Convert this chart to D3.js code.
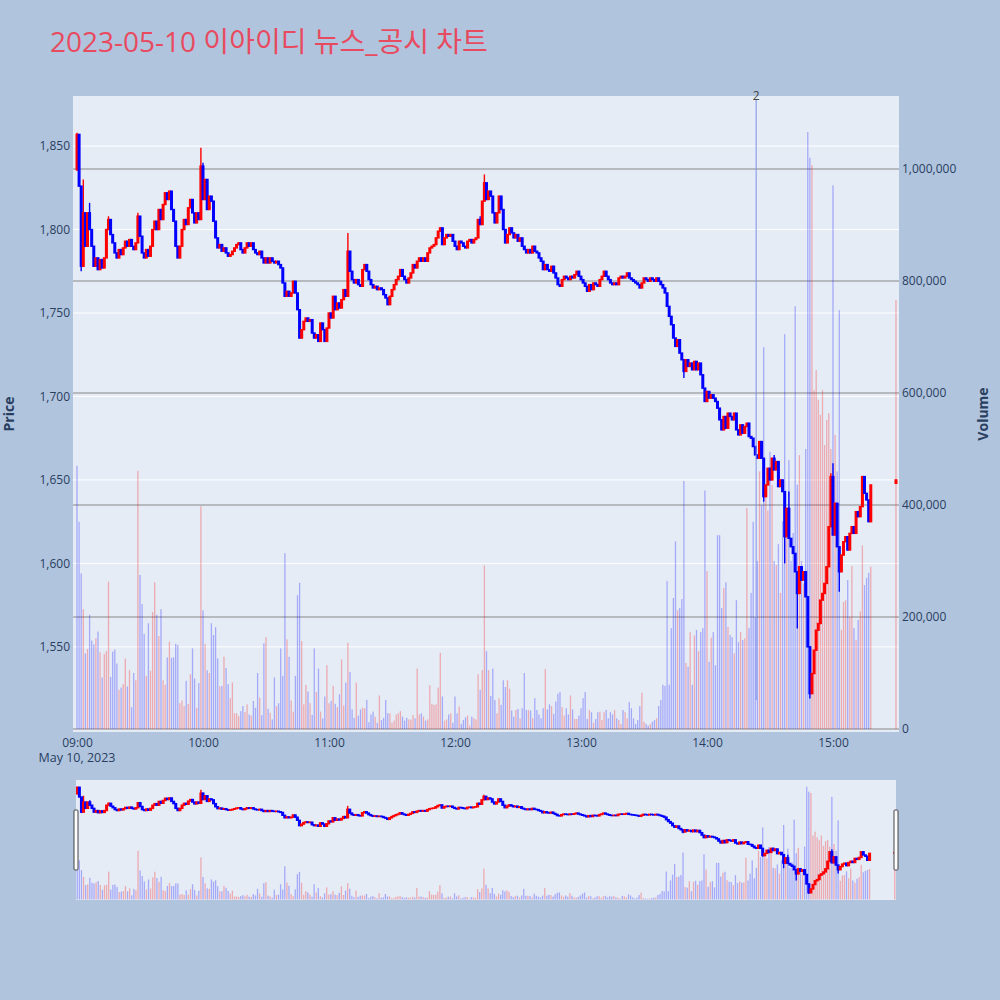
<!DOCTYPE html>
<html><head><meta charset="utf-8">
<script src="https://cdn.jsdelivr.net/npm/d3@7"></script>
<style>
body{margin:0;background:#b0c4de;}
svg{display:block;font-family:"Open Sans","Noto Sans CJK KR",sans-serif;}
</style></head><body>
<svg id="c" width="1000" height="1000"></svg>
<script>
// ---------------- data ----------------
const titleText = "2023-05-10 이아이디 뉴스_공시 차트";
const firstOpen = 1836;
const prevDayClose = 1860;
// one close per minute, 09:00 .. 15:18
const closes = [
1857,1826,1778,1810,1790,1810,1800,1790,1778,1783,
1776,1782,1777,1783,1800,1806,1797,1792,1786,1783,
1788,1785,1789,1793,1790,1794,1790,1788,1792,1808,
1796,1786,1783,1788,1784,1790,1800,1805,1800,1812,
1806,1815,1822,1818,1823,1812,1805,1790,1783,1790,
1800,1806,1803,1813,1818,1810,1804,1810,1806,1838,
1818,1830,1812,1820,1817,1805,1795,1789,1791,1787,
1789,1786,1784,1785,1787,1789,1791,1792,1788,1786,
1789,1792,1790,1792,1788,1786,1785,1787,1783,1780,
1783,1780,1783,1781,1780,1781,1779,1777,1768,1760,
1763,1760,1762,1769,1762,1752,1735,1740,1745,1747,
1745,1746,1738,1735,1737,1733,1744,1740,1733,1741,
1750,1747,1760,1752,1756,1753,1758,1764,1760,1787,
1775,1770,1768,1770,1767,1766,1776,1779,1775,1770,
1767,1765,1766,1764,1765,1764,1761,1759,1755,1760,
1764,1767,1770,1772,1776,1772,1770,1768,1771,1774,
1779,1777,1781,1783,1781,1783,1781,1786,1789,1790,
1791,1795,1799,1801,1791,1795,1797,1796,1797,1793,
1790,1788,1793,1792,1790,1789,1793,1794,1792,1794,
1795,1806,1803,1817,1828,1818,1823,1820,1810,1804,
1810,1820,1812,1800,1792,1797,1801,1798,1795,1797,
1793,1795,1790,1788,1786,1788,1786,1790,1787,1786,
1783,1781,1776,1779,1776,1775,1778,1774,1771,1767,
1766,1770,1772,1771,1770,1772,1771,1773,1775,1772,
1770,1768,1766,1763,1767,1764,1768,1767,1766,1770,
1772,1775,1772,1770,1768,1767,1768,1767,1771,1772,
1771,1772,1774,1771,1770,1769,1768,1767,1765,1768,
1771,1770,1769,1771,1770,1769,1771,1769,1767,1765,
1762,1754,1748,1743,1735,1730,1734,1726,1722,1715,
1722,1718,1720,1716,1721,1716,1720,1713,1705,1697,
1703,1699,1701,1699,1697,1693,1686,1680,1688,1681,
1690,1688,1686,1690,1680,1677,1683,1678,1682,1684,
1676,1675,1670,1665,1663,1673,1663,1640,1647,1657,
1650,1663,1656,1661,1646,1650,1643,1616,1633,1615,
1610,1606,1595,1582,1598,1590,1595,1580,1550,1522,
1534,1548,1560,1564,1578,1582,1588,1598,1622,1652,
1617,1636,1610,1595,1605,1613,1616,1608,1618,1622,
1618,1631,1628,1634,1652,1642,1638,1625,1647
];
// sparse wick extremes: [minute index, high, low]
const wicks = [
[0,1858,1835],[2,null,1775],[3,1830,null],[6,1816,null],[15,1808,null],
[29,1810,null],[59,1849,null],[60,1840,null],[129,1798,null],[192,1808,null],
[194,1833,null],[289,null,1711],[327,null,1637],[332,1665,null],[337,null,1600],
[339,1643,null],[343,null,1561],[349,null,1519],[359,1654,null],[360,1660,null],
[363,null,1583]
];
const volumes = [
470000,370000,278000,214000,135000,143000,204000,158000,151000,162000,
174000,137000,92000,134000,139000,263000,93000,138000,142000,117000,
70000,74000,80000,126000,76000,105000,39000,100000,87000,461000,
275000,223000,170000,95000,189000,104000,209000,262000,204000,166000,
214000,87000,79000,128000,156000,127000,128000,152000,150000,46000,
51000,41000,86000,45000,98000,144000,90000,38000,82000,398000,
212000,152000,105000,100000,189000,168000,182000,126000,76000,77000,
129000,109000,80000,55000,83000,28000,28000,23000,32000,41000,
30000,44000,26000,24000,50000,38000,100000,56000,25000,153000,
164000,36000,29000,17000,92000,41000,46000,144000,95000,314000,
160000,129000,51000,31000,95000,239000,261000,157000,44000,79000,
67000,46000,25000,144000,66000,108000,31000,19000,58000,114000,
46000,50000,77000,45000,39000,62000,124000,42000,83000,154000,
102000,35000,20000,83000,24000,35000,38000,37000,52000,12000,
26000,31000,22000,11000,60000,16000,20000,52000,28000,28000,
11000,15000,26000,28000,32000,22000,15000,20000,17000,17000,
25000,19000,108000,26000,28000,22000,15000,17000,78000,45000,
43000,44000,74000,136000,58000,15000,17000,26000,28000,11000,
58000,28000,40000,9000,16000,21000,24000,6000,22000,19000,
17000,98000,70000,105000,292000,139000,105000,59000,108000,52000,
28000,55000,43000,87000,75000,87000,72000,33000,22000,34000,
36000,19000,37000,100000,34000,34000,33000,19000,55000,34000,
26000,19000,37000,107000,35000,44000,41000,27000,49000,63000,
66000,39000,24000,37000,26000,60000,35000,18000,18000,24000,
37000,55000,66000,18000,34000,30000,11000,18000,30000,31000,
16000,30000,34000,19000,30000,26000,34000,19000,16000,9000,
34000,30000,19000,48000,37000,19000,9000,16000,41000,65000,
13000,9000,6000,9000,13000,16000,19000,41000,52000,79000,
77000,264000,79000,180000,234000,335000,212000,216000,232000,443000,
118000,111000,173000,79000,167000,177000,139000,173000,180000,426000,
282000,120000,163000,173000,114000,346000,346000,216000,252000,262000,
182000,168000,164000,135000,230000,155000,173000,159000,162000,395000,
180000,243000,370000,200000,300000,460000,400000,682000,425000,390000,
495000,436000,300000,293000,330000,243000,371000,705000,391000,480000,
300000,350000,755000,436000,489000,300000,260000,500000,1066000,1020000,
1007000,605000,641000,588000,561000,605000,507000,552000,564000,500000,
971000,525000,460000,748000,177000,227000,230000,266000,200000,291000,
180000,159000,195000,210000,328000,257000,270000,279000,290000
];
// closing single-price auction
const auctionTime = "15:30", auctionOpen = 1648, auctionClose = 1650, auctionVolume = 766000;
const priceTicks = [1550,1600,1650,1700,1750,1800,1850];
const volumeTicks = [0,200000,400000,600000,800000,1000000];
const timeTickLabels = ["09:00","10:00","11:00","12:00","13:00","14:00","15:00"];
const newsMarks = [{time:"14:23", count:"2"}];

// ---------------- build records ----------------
const day = (hm, s=0) => { const [h,m]=hm.split(":").map(Number); return new Date(2023,4,10,h,m,s); };
const t0 = day("09:00");
const wickMap = new Map(wicks.map(w=>[w[0],w]));
const recs = closes.map((c,i)=>{
  const o = i===0 ? firstOpen : closes[i-1];
  const w = wickMap.get(i);
  const hi = Math.max(o,c, w && w[1]!=null ? w[1] : -Infinity);
  const lo = Math.min(o,c, w && w[2]!=null ? w[2] : Infinity);
  const pc = i===0 ? prevDayClose : closes[i-1];
  return {t:new Date(t0.getTime()+i*60000), o, c, h:hi, l:lo, v:volumes[i], up:c>o, vup:c>pc};
});
recs.push({t:day(auctionTime), o:auctionOpen, c:auctionClose, h:auctionClose, l:auctionOpen,
  v:auctionVolume, up:auctionClose>auctionOpen, vup:auctionClose>closes[closes.length-1]});

// ---------------- layout ----------------
const svg = d3.select("#c");
const P = {l:73, r:899, t:96, b:732};
const S = {l:76, r:896, t:780, b:900};
const x = d3.scaleTime().domain([day("08:58",6), day("15:31",26)]).range([P.l,P.r]);
const xs = d3.scaleTime().domain([day("08:59",24), day("15:30",36)]).range([S.l,S.r]);
const yP = d3.scaleLinear().domain([1499,1880]).range([P.b,P.t]);
const yV = d3.scaleLinear().domain([-5357,1130357]).range([P.b,P.t]);
const yPs = d3.scaleLinear().domain([1499,1880]).range([S.b,S.t]);
const yVs = d3.scaleLinear().domain([-5357,1130357]).range([S.b,S.t]);
const RED="#ff0000", BLUE="#0000ff", TXT="#2a3f5f";

svg.append("text").attr("x",50).attr("y",52).attr("font-size",28).attr("fill","#e84b5f").text(titleText);

// main plot background
svg.append("rect").attr("x",P.l).attr("y",P.t).attr("width",P.r-P.l).attr("height",P.b-P.t).attr("fill","#e5ecf6");
svg.append("clipPath").attr("id","cm").append("rect").attr("x",P.l).attr("y",P.t).attr("width",P.r-P.l).attr("height",P.b-P.t);

// grids
svg.append("g").selectAll("line").data(priceTicks).join("line")
  .attr("x1",P.l).attr("x2",P.r).attr("y1",d=>yP(d)).attr("y2",d=>yP(d))
  .attr("stroke","#fff").attr("stroke-width",1);
svg.append("g").selectAll("line").data(volumeTicks).join("line")
  .attr("x1",P.l).attr("x2",P.r).attr("y1",d=>yV(d)).attr("y2",d=>yV(d))
  .attr("stroke","#888").attr("stroke-width",1.2);

function drawTraces(g, xsc, yp, yv){
  g.append("g").selectAll("rect").data(recs).join("rect")
    .attr("x",d=>xsc(d.t)-0.65).attr("width",1.3)
    .attr("y",d=>yv(d.v)).attr("height",d=>Math.max(0,yv(0)-yv(d.v)))
    .attr("fill",d=>d.vup?RED:BLUE).attr("opacity",0.28);
  const cg = g.append("g");
  cg.selectAll("line").data(recs).join("line")
    .attr("x1",d=>xsc(d.t)).attr("x2",d=>xsc(d.t))
    .attr("y1",d=>yp(d.h)).attr("y2",d=>yp(d.l))
    .attr("stroke",d=>d.up?RED:BLUE).attr("stroke-width",1.4);
  cg.selectAll("rect").data(recs).join("rect")
    .attr("x",d=>xsc(d.t)-0.8).attr("width",1.6)
    .attr("y",d=>yp(Math.max(d.o,d.c))).attr("height",d=>Math.abs(yp(d.o)-yp(d.c)))
    .attr("fill",d=>d.up?RED:BLUE).attr("stroke",d=>d.up?RED:BLUE).attr("stroke-width",1.4);
}
drawTraces(svg.append("g").attr("clip-path","url(#cm)"), x, yP, yV);

// news marker
newsMarks.forEach(n=>{
  const xx = x(day(n.time,24));
  svg.append("line").attr("x1",xx).attr("x2",xx).attr("y1",P.t+4).attr("y2",P.b-0.05*(P.b-P.t))
    .attr("stroke","#7f8ee8").attr("stroke-width",1);
  svg.append("text").attr("x",xx).attr("y",P.t+4).attr("text-anchor","middle")
    .attr("font-size",12).attr("fill","#444").text(n.count);
});

// axes
const ax = svg.append("g").attr("transform",`translate(0,${P.b})`)
  .call(d3.axisBottom(x).tickValues(timeTickLabels.map(s=>day(s))).tickFormat(d3.timeFormat("%H:%M")).tickSize(0).tickPadding(6));
ax.select(".domain").remove();
ax.selectAll("text").attr("font-size",12).attr("fill",TXT).attr("font-family","Open Sans, sans-serif");
svg.append("text").attr("x",x(day("09:00"))).attr("y",762).attr("text-anchor","middle")
  .attr("font-size",12.5).attr("fill",TXT).text("May 10, 2023");

const ayl = svg.append("g").attr("transform",`translate(${P.l},0)`)
  .call(d3.axisLeft(yP).tickValues(priceTicks).tickFormat(d3.format(",")).tickSize(0).tickPadding(3));
ayl.select(".domain").remove();
ayl.selectAll("text").attr("font-size",12).attr("fill",TXT).attr("font-family","Open Sans, sans-serif");
const ayr = svg.append("g").attr("transform",`translate(${P.r},0)`)
  .call(d3.axisRight(yV).tickValues(volumeTicks).tickFormat(d3.format(",")).tickSize(0).tickPadding(3));
ayr.select(".domain").remove();
ayr.selectAll("text").attr("font-size",12).attr("fill",TXT).attr("font-family","Open Sans, sans-serif");

svg.append("text").attr("transform",`translate(14,${(P.t+P.b)/2}) rotate(-90)`).attr("text-anchor","middle")
  .attr("font-size",14).attr("font-weight","bold").attr("fill",TXT).text("Price");
svg.append("text").attr("transform",`translate(988,${(P.t+P.b)/2}) rotate(-90)`).attr("text-anchor","middle")
  .attr("font-size",14).attr("font-weight","bold").attr("fill",TXT).text("Volume");

// range slider
svg.append("rect").attr("x",S.l).attr("y",S.t).attr("width",S.r-S.l).attr("height",S.b-S.t).attr("fill","#e5ecf6");
svg.append("clipPath").attr("id","cs").append("rect").attr("x",S.l).attr("y",S.t).attr("width",S.r-S.l).attr("height",S.b-S.t);
drawTraces(svg.append("g").attr("clip-path","url(#cs)"), xs, yPs, yVs);
[S.l-1.5, S.r-1.5].forEach(hx=>{
  svg.append("rect").attr("x",hx-0.5).attr("y",S.t+30).attr("width",4).attr("height",60)
    .attr("rx",1).attr("fill","#fff").attr("stroke","#444").attr("stroke-width",1);
});
</script></body></html>
